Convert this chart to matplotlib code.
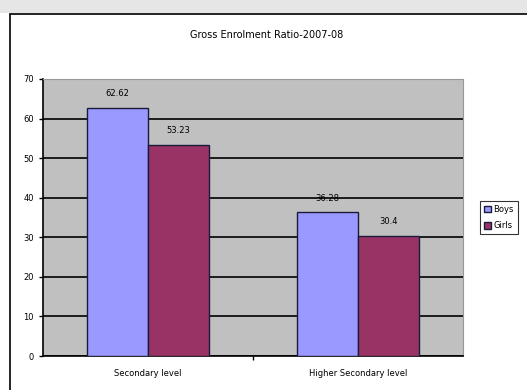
import numpy as np
import matplotlib.pyplot as plt
from matplotlib.patches import Rectangle

# data
levels = ["Secondary level", "Higher Secondary level"]
boys = [62.62, 36.28]
girls = [53.23, 30.4]
labels_boys = ["62.62", "36.28"]
labels_girls = ["53.23", "30.4"]

fig = plt.figure(figsize=(5.27, 3.9), dpi=100)
fig.patch.set_facecolor("white")

# top grey band and chart frame
fig.patches.append(Rectangle((0, 1 - 13 / 390), 1, 13 / 390, transform=fig.transFigure,
                             facecolor="#e6e6e6", edgecolor="none", zorder=-2))
fig.patches.append(Rectangle((10 / 527, -0.05), 1.1, 1 - 14 / 390 + 0.05, transform=fig.transFigure,
                             facecolor="white", edgecolor="black", linewidth=1.2, zorder=-1))

ax = fig.add_axes([43 / 527, 1 - 356 / 390, 420 / 527, 277 / 390])
ax.set_facecolor("#c0c0c0")

x = np.arange(len(levels))
w = 0.29
b1 = ax.bar(x - w / 2, boys, w, color="#9999ff", edgecolor="#1a1a3a", linewidth=1, label="Boys", zorder=3)
b2 = ax.bar(x + w / 2, girls, w, color="#993366", edgecolor="#1a1a3a", linewidth=1, label="Girls", zorder=3)

for i in range(len(levels)):
    ax.text(x[i] - w / 2, boys[i] + 2.5, labels_boys[i], ha="center", va="bottom", fontsize=6)
    ax.text(x[i] + w / 2, girls[i] + 2.5, labels_girls[i], ha="center", va="bottom", fontsize=6)

ax.set_xlim(-0.5, 1.5)
ax.set_ylim(0, 70)
ax.set_yticks(range(0, 71, 10))
ax.yaxis.grid(True, color="black", linewidth=1.2, zorder=1)
ax.set_axisbelow(True)
ax.tick_params(axis="y", labelsize=6, length=3, width=1, direction="out")
ax.set_xticks(x)
ax.set_xticklabels(levels, fontsize=6)
ax.tick_params(axis="x", length=0, pad=9)
ax.set_xticks([0.5], minor=True)
ax.tick_params(axis="x", which="minor", length=3, width=1)
for s in ["top", "right"]:
    ax.spines[s].set_color("#999999")
for s in ["left", "bottom"]:
    ax.spines[s].set_linewidth(1.2)

fig.text(267 / 527, 1 - 35 / 390, "Gross Enrolment Ratio-2007-08", ha="center", va="center", fontsize=7)

leg = ax.legend(loc="center left", bbox_to_anchor=(1.03, 0.5), fontsize=6, frameon=True,
                fancybox=False, edgecolor="black", handlelength=0.8, handleheight=0.8,
                handletextpad=0.3, borderpad=0.5, labelspacing=0.9)
leg.get_frame().set_linewidth(0.8)

plt.savefig("out.png", dpi=100)
